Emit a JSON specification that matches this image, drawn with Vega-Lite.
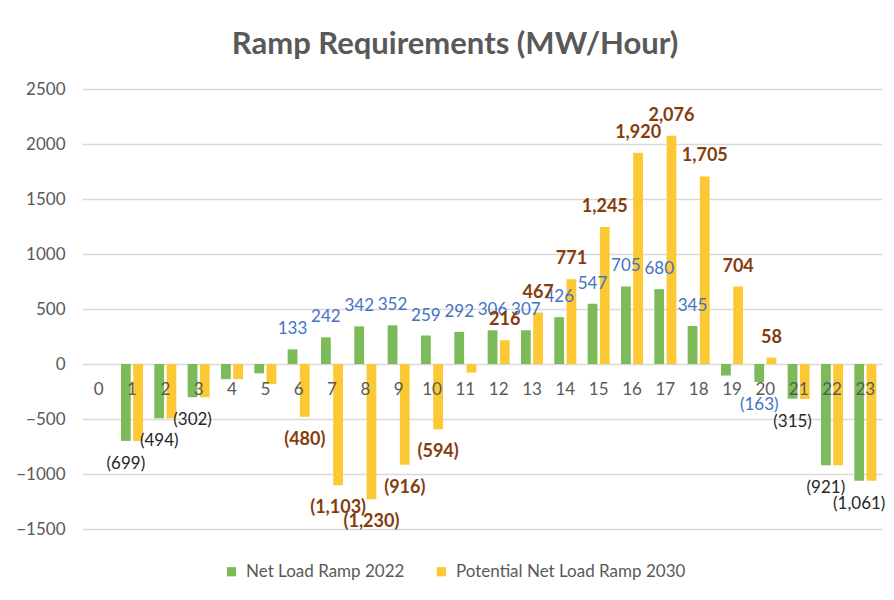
{
  "$schema": "https://vega.github.io/schema/vega-lite/v6.json",
  "width": 800,
  "height": 440,
  "autosize": {"type": "none"},
  "padding": {"left": 82, "top": 89, "right": 12, "bottom": 71},
  "background": "white",
  "title": {"text": "Ramp Requirements (MW/Hour)", "anchor": "middle", "dx": -27, "offset": -5, "baseline": "alphabetic", "font": "Lato", "fontSize": 31, "fontWeight": "bold", "color": "#595959"},
  "config": {"view": {"stroke": null}},
  "data": {"values": [
    {"hour": 0, "series": "Net Load Ramp 2022", "value": 0, "label": ""},
    {"hour": 0, "series": "Potential Net Load Ramp 2030", "value": 0, "label": ""},
    {"hour": 1, "series": "Net Load Ramp 2022", "value": -699, "label": "(699)"},
    {"hour": 1, "series": "Potential Net Load Ramp 2030", "value": -699, "label": ""},
    {"hour": 2, "series": "Net Load Ramp 2022", "value": -494, "label": "(494)"},
    {"hour": 2, "series": "Potential Net Load Ramp 2030", "value": -494, "label": ""},
    {"hour": 3, "series": "Net Load Ramp 2022", "value": -302, "label": "(302)"},
    {"hour": 3, "series": "Potential Net Load Ramp 2030", "value": -302, "label": ""},
    {"hour": 4, "series": "Net Load Ramp 2022", "value": -138, "label": ""},
    {"hour": 4, "series": "Potential Net Load Ramp 2030", "value": -138, "label": ""},
    {"hour": 5, "series": "Net Load Ramp 2022", "value": -85, "label": ""},
    {"hour": 5, "series": "Potential Net Load Ramp 2030", "value": -183, "label": ""},
    {"hour": 6, "series": "Net Load Ramp 2022", "value": 133, "label": "133"},
    {"hour": 6, "series": "Potential Net Load Ramp 2030", "value": -480, "label": "(480)"},
    {"hour": 7, "series": "Net Load Ramp 2022", "value": 242, "label": "242"},
    {"hour": 7, "series": "Potential Net Load Ramp 2030", "value": -1103, "label": "(1,103)"},
    {"hour": 8, "series": "Net Load Ramp 2022", "value": 342, "label": "342"},
    {"hour": 8, "series": "Potential Net Load Ramp 2030", "value": -1230, "label": "(1,230)"},
    {"hour": 9, "series": "Net Load Ramp 2022", "value": 352, "label": "352"},
    {"hour": 9, "series": "Potential Net Load Ramp 2030", "value": -916, "label": "(916)"},
    {"hour": 10, "series": "Net Load Ramp 2022", "value": 259, "label": "259"},
    {"hour": 10, "series": "Potential Net Load Ramp 2030", "value": -594, "label": "(594)"},
    {"hour": 11, "series": "Net Load Ramp 2022", "value": 292, "label": "292"},
    {"hour": 11, "series": "Potential Net Load Ramp 2030", "value": -78, "label": ""},
    {"hour": 12, "series": "Net Load Ramp 2022", "value": 306, "label": "306"},
    {"hour": 12, "series": "Potential Net Load Ramp 2030", "value": 216, "label": "216"},
    {"hour": 13, "series": "Net Load Ramp 2022", "value": 307, "label": "307"},
    {"hour": 13, "series": "Potential Net Load Ramp 2030", "value": 467, "label": "467"},
    {"hour": 14, "series": "Net Load Ramp 2022", "value": 426, "label": "426"},
    {"hour": 14, "series": "Potential Net Load Ramp 2030", "value": 771, "label": "771"},
    {"hour": 15, "series": "Net Load Ramp 2022", "value": 547, "label": "547"},
    {"hour": 15, "series": "Potential Net Load Ramp 2030", "value": 1245, "label": "1,245"},
    {"hour": 16, "series": "Net Load Ramp 2022", "value": 705, "label": "705"},
    {"hour": 16, "series": "Potential Net Load Ramp 2030", "value": 1920, "label": "1,920"},
    {"hour": 17, "series": "Net Load Ramp 2022", "value": 680, "label": "680"},
    {"hour": 17, "series": "Potential Net Load Ramp 2030", "value": 2076, "label": "2,076"},
    {"hour": 18, "series": "Net Load Ramp 2022", "value": 345, "label": "345"},
    {"hour": 18, "series": "Potential Net Load Ramp 2030", "value": 1705, "label": "1,705"},
    {"hour": 19, "series": "Net Load Ramp 2022", "value": -105, "label": ""},
    {"hour": 19, "series": "Potential Net Load Ramp 2030", "value": 704, "label": "704"},
    {"hour": 20, "series": "Net Load Ramp 2022", "value": -163, "label": "(163)"},
    {"hour": 20, "series": "Potential Net Load Ramp 2030", "value": 58, "label": "58"},
    {"hour": 21, "series": "Net Load Ramp 2022", "value": -315, "label": "(315)"},
    {"hour": 21, "series": "Potential Net Load Ramp 2030", "value": -318, "label": ""},
    {"hour": 22, "series": "Net Load Ramp 2022", "value": -921, "label": "(921)"},
    {"hour": 22, "series": "Potential Net Load Ramp 2030", "value": -921, "label": ""},
    {"hour": 23, "series": "Net Load Ramp 2022", "value": -1061, "label": "(1,061)"},
    {"hour": 23, "series": "Potential Net Load Ramp 2030", "value": -1061, "label": ""}
  ]},
  "encoding": {
    "x": {
      "field": "hour", "type": "ordinal",
      "scale": {"paddingInner": 0.34, "paddingOuter": 0.17},
      "axis": {"title": null, "domain": false, "ticks": false, "tickSize": 0, "grid": false, "labelAngle": 0, "labelPadding": 17, "labelBaseline": "top", "labelFont": "Lato", "labelFontSize": 17, "labelColor": "#595959", "offset": -165, "zindex": 1}
    },
    "xOffset": {"field": "series", "type": "nominal", "scale": {"paddingInner": 0.2, "paddingOuter": 0}},
    "y": {
      "field": "value", "type": "quantitative",
      "scale": {"domain": [-1500, 2500], "nice": false},
      "axis": {"title": null, "format": "d", "values": [-1500, -1000, -500, 0, 500, 1000, 1500, 2000, 2500], "domain": false, "ticks": false, "tickSize": 0, "labelPadding": 17, "labelFont": "Lato", "labelFontSize": 17, "labelColor": "#595959", "gridColor": "#D9D9D9", "gridWidth": 1.3, "zindex": 0}
    }
  },
  "layer": [
    {
      "mark": {"type": "bar"},
      "encoding": {
        "color": {
          "field": "series", "type": "nominal",
          "scale": {"domain": ["Net Load Ramp 2022", "Potential Net Load Ramp 2030"], "range": ["#7DBA5A", "#FCC935"]},
          "legend": {"orient": "none", "legendX": 141, "legendY": 474, "direction": "horizontal", "title": null, "symbolType": "square", "symbolSize": 85, "symbolStrokeWidth": 0, "labelFont": "Lato", "labelFontSize": 17, "labelColor": "#595959", "labelLimit": 400, "columnPadding": 28, "labelOffset": 6}
        }
      }
    },
    {
      "transform": [{"filter": "datum.series == 'Net Load Ramp 2022' && datum.label != '' && datum.value > 0"}],
      "mark": {"type": "text", "dy": -20, "baseline": "middle", "font": "Lato", "fontSize": 17},
      "encoding": {"text": {"field": "label"}, "color": {"value": "#4472C4"}}
    },
    {
      "transform": [{"filter": "datum.series == 'Net Load Ramp 2022' && datum.label != '' && datum.value < 0"}],
      "mark": {"type": "text", "dy": 23, "baseline": "middle", "font": "Lato", "fontSize": 17},
      "encoding": {"text": {"field": "label"}, "color": {"condition": {"test": "datum.hour == 20", "value": "#4472C4"}, "value": "#262626"}}
    },
    {
      "transform": [{"filter": "datum.series == 'Potential Net Load Ramp 2030' && datum.label != '' && datum.value > 0"}],
      "mark": {"type": "text", "dy": -20, "baseline": "middle", "font": "Lato", "fontSize": 18, "fontWeight": "bold"},
      "encoding": {"text": {"field": "label"}, "color": {"value": "#843C0C"}}
    },
    {
      "transform": [{"filter": "datum.series == 'Potential Net Load Ramp 2030' && datum.label != '' && datum.value < 0"}],
      "mark": {"type": "text", "dy": 23, "baseline": "middle", "font": "Lato", "fontSize": 18, "fontWeight": "bold"},
      "encoding": {"text": {"field": "label"}, "color": {"value": "#843C0C"}}
    }
  ]
}
